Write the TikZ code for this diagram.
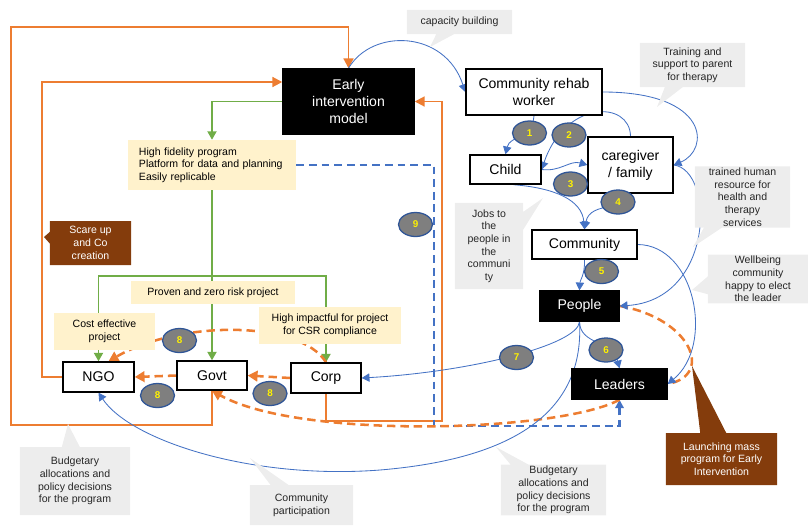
\documentclass[tikz,border=0pt]{standalone}
\usepackage{fontspec}
\setmainfont{Liberation Sans}
\usepackage {tikz}
\usetikzlibrary {positioning}
\usetikzlibrary{arrows.meta,shapes.geometric,shapes.callouts,backgrounds}
\usepackage{xcolor}
\definecolor{eiOrange}{HTML}{ED7D31}
\definecolor{eiGreen}{HTML}{70AD47}
\definecolor{eiBlue}{HTML}{4472C4}
\definecolor{eiNavy}{HTML}{2F5597}
\definecolor{eiYellow}{HTML}{FFF2CC}
\definecolor{eiGrey}{HTML}{EDEDED}
\definecolor{eiBrown}{HTML}{843C0C}
\definecolor{eiBall}{HTML}{7F7F7F}

\begin{document}
\begin{tikzpicture}[x=0.025cm, y=-0.025cm,
  box node/.style={shape=rectangle, draw=black, line width=1pt, fill=white, font=\fontsize{10}{12}\selectfont, align=center, inner sep=1pt},
  dark node/.style={box node, fill=black, text=white},
  note node/.style={shape=rectangle, fill=eiYellow, font=\fontsize{7.5}{9}\selectfont, inner sep=2pt},
  tip node/.style={rectangle callout, fill=eiGrey, font=\fontsize{7.5}{9}\selectfont, align=center, text=black!85, callout pointer width=0.45cm, inner sep=1pt},
  brown node/.style={tip node, fill=eiBrown, text=white},
  num node/.style={shape=ellipse, draw=eiNavy, line width=0.9pt, fill=eiBall, minimum width=0.85cm, minimum height=0.6cm, inner sep=0, text=yellow, font=\fontsize{7}{8}\selectfont\bfseries},
  or line/.style={draw=eiOrange, line width=1.4pt, -{Triangle[length=7pt,width=7pt]}},
  gr line/.style={draw=eiGreen, line width=1.1pt, -{Triangle[length=6pt,width=6.5pt]}},
  bl line/.style={draw=eiBlue, line width=0.6pt, -{Triangle[length=5.5pt,width=6pt]}},
  bd line/.style={draw=eiBlue, line width=1.5pt, dash pattern=on 5.5pt off 3.5pt, -{Triangle[length=6pt,width=6pt]}},
  od line/.style={draw=eiOrange, line width=1.8pt, dash pattern=on 6pt off 3.5pt, -{Triangle[length=7pt,width=7.5pt]}},
  ]
		\useasboundingbox (0,0) rectangle (808,527);
		%main boxes
		\node[dark node, minimum width=3.275cm, minimum height=1.625cm] (eim) at (348.5,101.5){Early\\intervention\\model};
		\node[box node, minimum width=3.4cm, minimum height=1.15cm] (crw) at (534,92){Community rehab\\worker};
		\node[box node, minimum width=1.775cm, minimum height=0.725cm] (child) at (505.5,169.5){Child};
		\node[box node, minimum width=2.125cm, minimum height=1.4cm] (cg) at (630.5,165){caregiver\\/ family};
		\node[box node, minimum width=2.625cm, minimum height=0.725cm] (comm) at (584.5,244.5){Community};
		\node[dark node, minimum width=1.975cm, minimum height=0.75cm] (people) at (579.5,306){People};
		\node[dark node, minimum width=2.375cm, minimum height=0.75cm] (leaders) at (619.5,384){Leaders};
		\node[box node, minimum width=1.775cm, minimum height=0.75cm] (ngo) at (98.5,377){NGO};
		\node[box node, minimum width=1.75cm, minimum height=0.725cm] (govt) at (212,375.5){Govt};
		\node[box node, minimum width=1.75cm, minimum height=0.75cm] (corp) at (326,378){Corp};
		
		%yellow notes
		\node[note node, minimum width=4.2cm, minimum height=1.25cm, text width=3.65cm, align=left] (fid) at (212,165){High fidelity program\\Platform for data and planning\\Easily replicable};
		\node[note node, minimum width=4.1cm, minimum height=0.575cm] (proven) at (213,292.5){Proven and zero risk project};
		\node[note node, minimum width=2.525cm, minimum height=0.925cm, align=center] (cost) at (104.5,331.5){Cost effective\\project};
		\node[note node, minimum width=3.55cm, minimum height=0.925cm, align=center] (csr) at (330,325.5){High impactful for project\\for CSR compliance};
		
		%callouts
		\node[tip node, minimum width=2.625cm, minimum height=0.6cm, callout absolute pointer={(430,47)}] (capn) at (459.5,22){capacity building};
		\node[tip node, minimum width=2.625cm, minimum height=1.1cm, callout absolute pointer={(657,107)}] (trainn) at (692.5,65){Training and\\support to parent\\for therapy};
		\node[tip node, minimum width=2.375cm, minimum height=1.5cm, callout absolute pointer={(693,247)}] (humann) at (742.5,197){trained human\\resource for\\health and\\therapy\\services};
		\node[tip node, minimum width=1.7cm, minimum height=2.15cm, callout absolute pointer={(543,198)}] (jobsn) at (489,246){Jobs to\\the\\people in\\the\\communi\\ty};
		\node[tip node, minimum width=2.5cm, minimum height=1.1cm, callout absolute pointer={(692,290)}] (welln) at (758,279){Wellbeing\\community\\happy to elect\\the leader};
		\node[tip node, minimum width=2.75cm, minimum height=1.7cm, callout absolute pointer={(68,424)}] (budgetl) at (75,481){Budgetary\\allocations and\\policy decisions\\for the program};
		\node[tip node, minimum width=2.575cm, minimum height=1cm, callout absolute pointer={(250,458)}] (partn) at (301.5,505){Community\\participation};
		\node[tip node, minimum width=2.625cm, minimum height=1.2cm, callout absolute pointer={(496,447)}] (budgetr) at (553.5,490){Budgetary\\allocations and\\policy decisions\\for the program};
		\node[brown node, minimum width=2.025cm, minimum height=1.1cm, callout pointer width=0.3cm, callout absolute pointer={(44,237)}] (scaren) at (90.5,243){Scare up\\and Co\\creation};
		\node[brown node, minimum width=2.775cm, minimum height=1.3cm, callout pointer width=0.65cm, callout absolute pointer={(692,366)}] (launchn) at (721.5,459){Launching mass\\program for Early\\Intervention};
		
		%numbered steps
		\foreach \nm/\px/\py/\lab in {n1/529.5/133/1, n2/569/135/2, n3/570.5/184/3, n4/618/202/4, n5/601.5/271.5/5, n6/606/350/6, n7/516.5/357.5/7, n8a/179.5/340.5/8, n8b/157.5/395.5/8, n8c/270/393.5/8, n9/415.5/224.5/9}
		{
		    \node[num node] (\nm) at (\px,\py){\lab};
		}
		
		\coordinate (split) at (212,276);
		\begin{pgfonlayer}{background}
		\draw[or line] (govt.south) |- (11,425) -- (11,27) -| (eim.north);
		\draw[or line] (ngo.west) -| (42,82) -- (eim.west |- 0,82);
		\draw[or line] (corp.south) |- (442,421) |- (eim.east);
		
		\draw[gr line] (eim.west) -| (fid.north);
		\draw[gr line] (fid.south) -- (govt.north);
		\draw[gr line] (split) -| (ngo.north);
		\draw[gr line] (split) -| (corp.north);
		
		\draw[bd line] (fid.east) -| (434,426) -| (leaders.south);
		
		\draw[od line] (corp.north) .. controls (300,320) and (180,320) .. ([xshift=0.25cm]ngo.north);
		\draw[od line] (govt.west) -- (ngo.east);
		\draw[od line] (corp.west) -- (govt.east);
		\draw[od line] (leaders.south) .. controls (560,432) and (300,440) .. (govt.south);
		\draw[od line, -] (people.east) .. controls (690,318) and (715,375) .. (leaders.east);
		
		\draw[bl line] (eim.north) .. controls (372,28) and (445,30) .. (crw.west);
		\draw[bl line] (crw.south) .. controls (532,140) and (510,135) .. (child.north);
		\draw[bl line] (cg.north) .. controls (630,100) and (565,100) .. (child.east);
		\draw[bl line] (child.east) .. controls (560,172) and (570,160) .. (cg.west);
		\draw[bl line] (cg.south) .. controls (630,212) and (590,200) .. (comm.north);
		\draw[bl line] ([xshift=0.2cm]child.south) .. controls (555,188) and (582,200) .. (comm.north);
		\draw[bl line] (crw.east) .. controls (710,92) and (710,150) .. (cg.east);
		\draw[bl line] (cg.east) .. controls (715,170) and (715,300) .. (people.east);
		\draw[bl line] (comm.east) .. controls (695,245) and (715,345) .. (leaders.east);
		\draw[bl line] (comm.south) .. controls (585,275) and (580,280) .. (people.north);
		\draw[bl line] (people.south) .. controls (580,345) and (612,340) .. (leaders.north);
		\draw[bl line] (people.south) .. controls (578,345) and (470,372) .. (corp.east);
		\draw[bl line] (people.south) .. controls (585,420) and (500,460) .. (380,470) .. controls (250,480) and (130,440) .. (ngo.south);
		\end{pgfonlayer}
		
		\end{tikzpicture}
\end{document}
